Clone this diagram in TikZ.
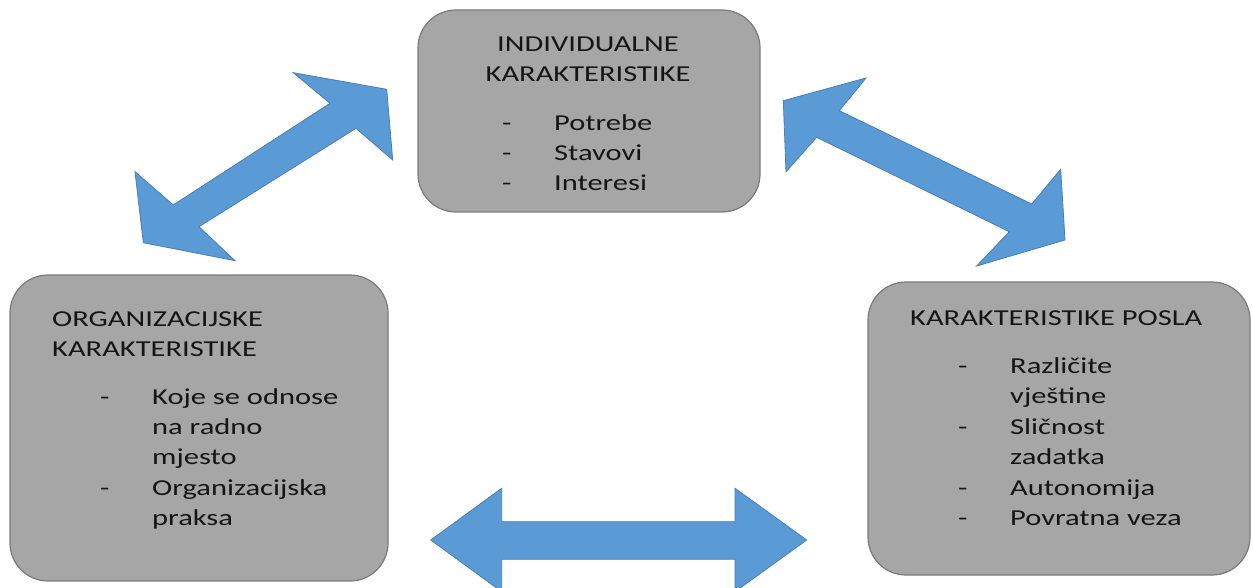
\documentclass[tikz,border=0pt]{standalone}
\usepackage{fontspec}
\setmainfont{Carlito}[FakeStretch=1.338]
\definecolor{boxfill}{HTML}{A6A6A6}
\definecolor{boxedge}{HTML}{7A7A7A}
\definecolor{arrowfill}{HTML}{5B9BD5}
\definecolor{arrowedge}{HTML}{4A7EB5}
\definecolor{textcol}{HTML}{151515}
\begin{document}
\begin{tikzpicture}[x=1pt,y=-1pt,
  graybox/.style={draw=boxedge, fill=boxfill, line width=1.2pt, rounded corners=38pt, inner sep=0pt},
  blockarrow/.style={draw=arrowedge, fill=arrowfill, line width=0.8pt, line join=miter},
  txt/.style={inner sep=0pt, anchor=base west, font=\fontsize{22.8}{30}\selectfont, text=textcol}]
\useasboundingbox (0,0) rectangle (1253,588);
\clip (0,0) rectangle (1253,588);
\fill[white] (0,0) rectangle (1253,588);
% boxes
\node[graybox, minimum width=342pt, minimum height=202pt] (ind) at (589,111) {};
\node[graybox, minimum width=378pt, minimum height=306pt] (org) at (199,428) {};
\node[graybox, minimum width=382pt, minimum height=293pt] (pos) at (1059,428.5) {};
% texts
\node[txt, anchor=base] (indh) at (588,52) {\begin{tabular}[t]{@{}c@{}}INDIVIDUALNE\\KARAKTERISTIKE\end{tabular}};
\node[txt] (indl) at (502,131) {\begin{tabular}[t]{@{}p{52pt}@{}l@{}}-&Potrebe\\-&Stavovi\\-&Interesi\end{tabular}};
\node[txt] (orgh) at (52,326) {\begin{tabular}[t]{@{}l@{}}ORGANIZACIJSKE\\KARAKTERISTIKE\end{tabular}};
\node[txt] (orgl) at (100,404) {\begin{tabular}[t]{@{}p{52pt}@{}l@{}}-&Koje se odnose\\&na radno\\&mjesto\\[1pt]-&Organizacijska\\&praksa\end{tabular}};
\node[txt] (posh) at (910,325) {KARAKTERISTIKE POSLA};
\node[txt] (posl) at (958,373) {\begin{tabular}[t]{@{}p{52pt}@{}l@{}}-&Različite\\&vještine\\[1pt]-&Sličnost\\&zadatka\\[1.5pt]-&Autonomija\\-&Povratna veza\end{tabular}};
% block arrows
\draw[blockarrow] (386.7,89.3) -- (392.7,160) -- (356,128.3) -- (199,226.7) -- (235,260.7)
  -- (143.3,242.7) -- (135,171.7) -- (173.3,205) -- (330,103.3) -- (293.3,72.7) -- cycle;
\draw[blockarrow] (783.3,100.7) -- (866,78) -- (839.3,110.7) -- (1031.7,204) -- (1060.7,169.3)
  -- (1065,240) -- (976.7,266) -- (1009.3,231.7) -- (816.7,137.3) -- (786,171.7) -- cycle;
\draw[blockarrow] (430.7,540) -- (501.7,488.3) -- (501.7,521.7) -- (735,521.7) -- (735,488.3)
  -- (806.7,540) -- (735,591.7) -- (735,559.3) -- (501.7,559.3) -- (501.7,591.7) -- cycle;
\end{tikzpicture}
\end{document}
